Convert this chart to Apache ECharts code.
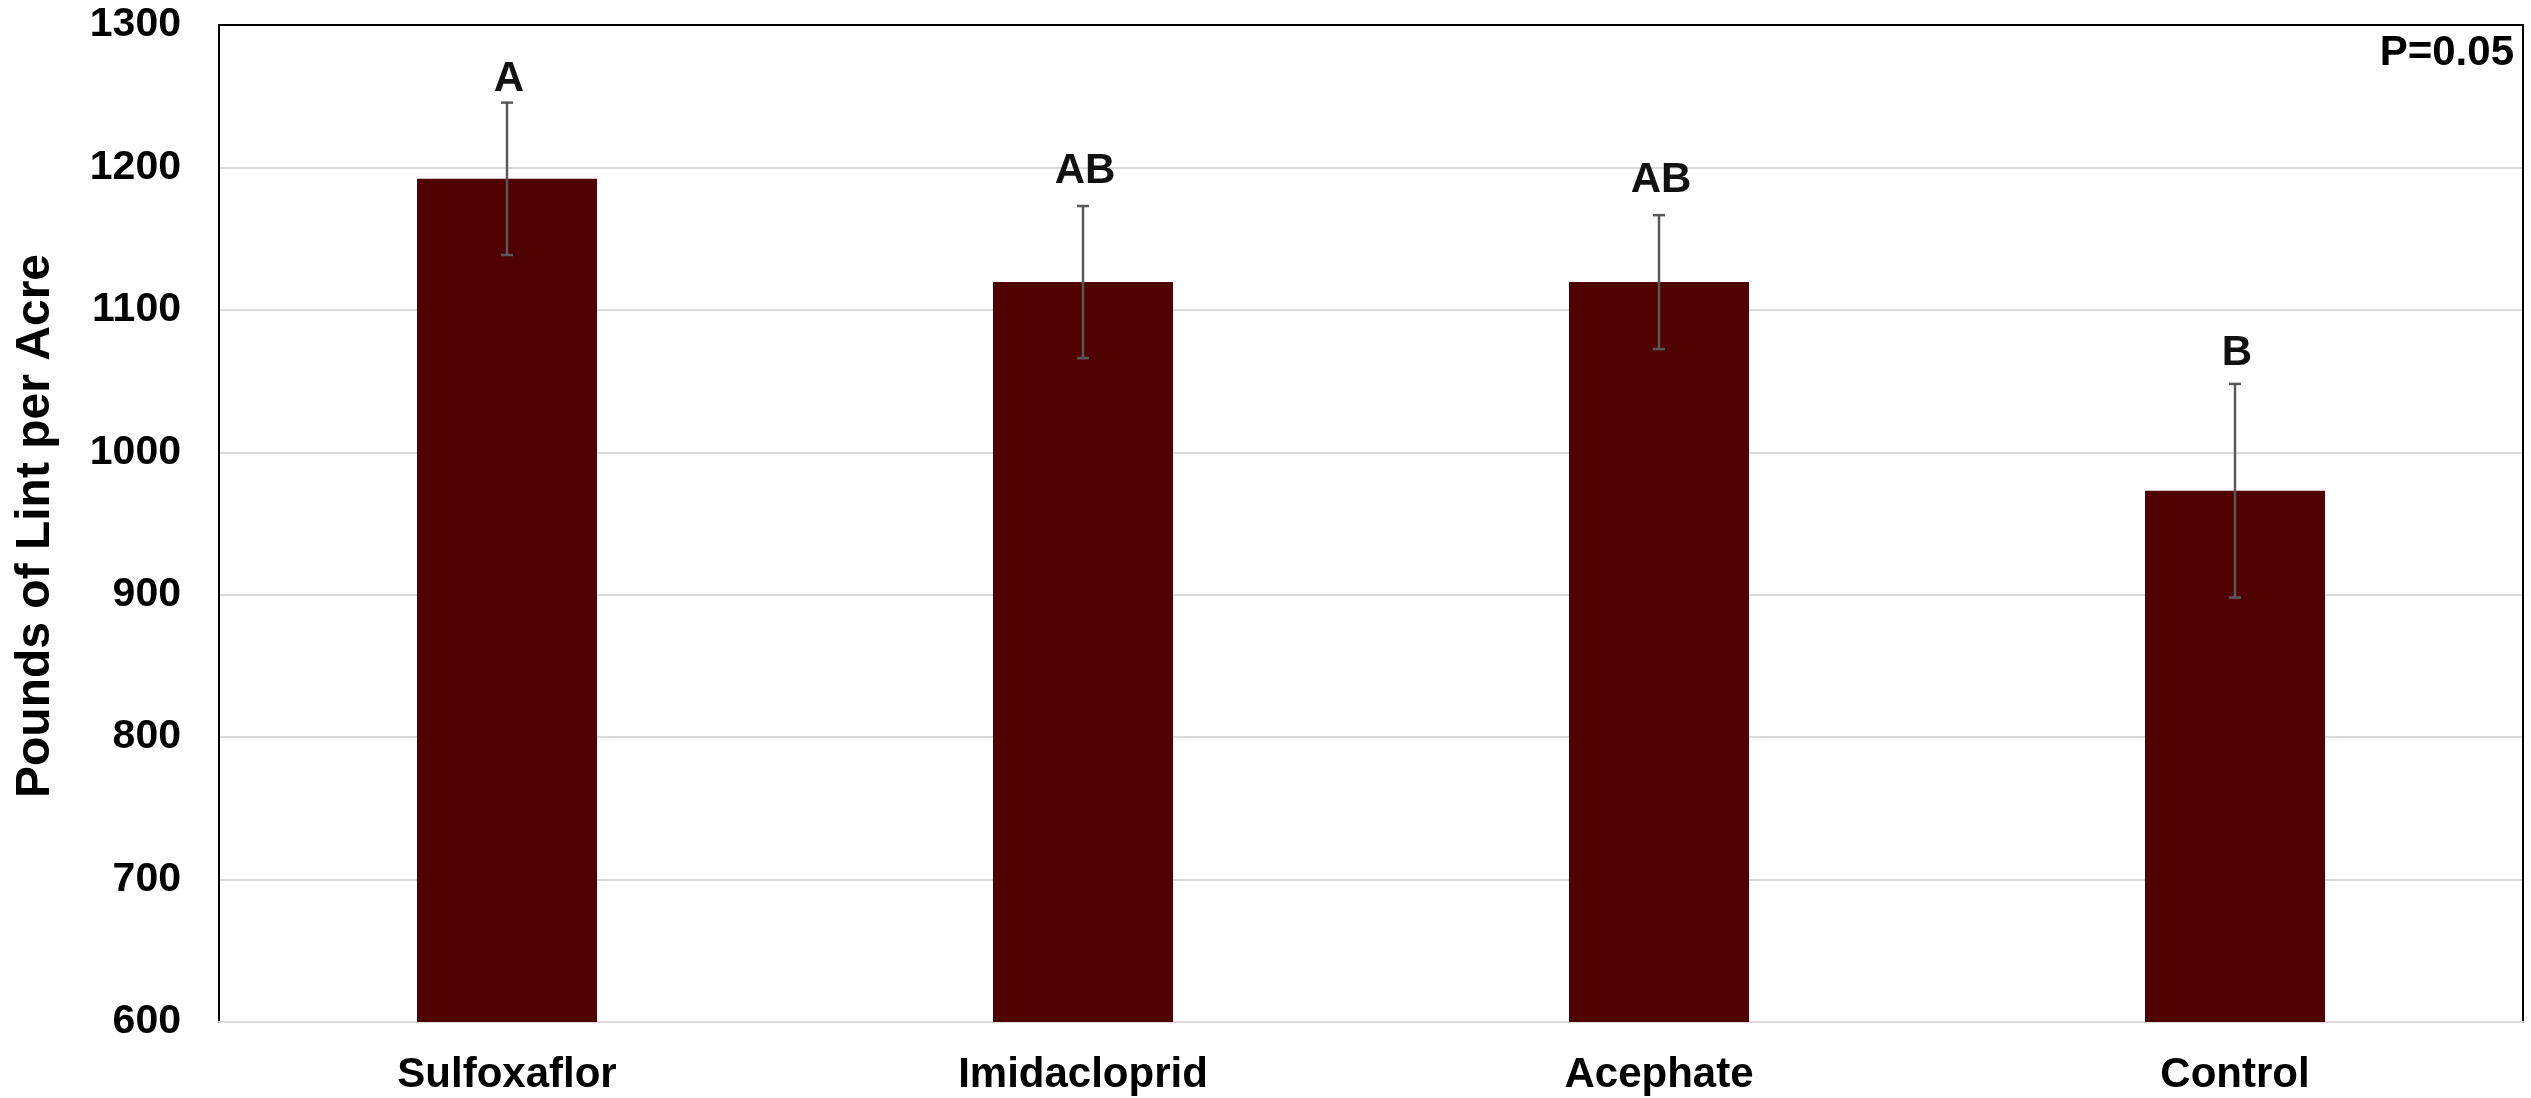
<!DOCTYPE html>
<html>
<head>
<meta charset="utf-8">
<script src="https://cdn.jsdelivr.net/npm/echarts@6/dist/echarts.min.js"></script>
<style>
html,body{margin:0;padding:0;background:#fff;}
#chart{width:2531px;height:1098px;}
</style>
</head>
<body>
<div id="chart"></div>
<script>
// ---- data ----
const categories = ['Sulfoxaflor', 'Imidacloprid', 'Acephate', 'Control'];
const lintYield = [1192, 1119.5, 1119.5, 973];
const stdError = [53.5, 53.4, 47, 75];
const letters = ['A', 'AB', 'AB', 'B'];
const letterAnchor = [1253, 1188, 1182, 1060];
const yTicks = [600, 700, 800, 900, 1000, 1100, 1200, 1300];
const yTitle = 'Pounds of Lint per Acre';
const pText = 'P=0.05';

const FONT = '"Liberation Sans", Arial, sans-serif';
const chart = echarts.init(document.getElementById('chart'), null, {renderer: 'canvas'});

const errData = categories.map((c, i) => [i, lintYield[i] - stdError[i], lintYield[i] + stdError[i], letterAnchor[i]]);

const option = {
  animation: false,
  backgroundColor: '#fff',
  grid: {left: 219, right: 8, top: 25, bottom: 76, containLabel: false},
  xAxis: [{
    type: 'category',
    data: categories,
    axisLine: {show: true, lineStyle: {color: '#d9d9d9', width: 2}},
    axisTick: {show: false},
    axisLabel: {color: '#000', fontFamily: FONT, fontWeight: 'bold', fontSize: 42, margin: 32},
    splitLine: {show: false}
  }, {
    type: 'category',
    data: categories,
    position: 'top',
    axisLine: {show: true, lineStyle: {color: '#000', width: 2}},
    axisTick: {show: false},
    axisLabel: {show: false}
  }],
  yAxis: [{
    type: 'value',
    min: yTicks[0],
    max: yTicks[yTicks.length - 1],
    interval: 100,
    axisLine: {show: true, lineStyle: {color: '#000', width: 2}},
    axisTick: {show: false},
    axisLabel: {color: '#000', fontFamily: FONT, fontWeight: 'bold', fontSize: 41, margin: 38,
                formatter: function (v) { return String(v); }},
    splitLine: {show: true, lineStyle: {color: '#d9d9d9', width: 2}}
  }, {
    type: 'value',
    position: 'right',
    min: yTicks[0],
    max: yTicks[yTicks.length - 1],
    interval: 100,
    axisLine: {show: true, lineStyle: {color: '#000', width: 2}},
    axisTick: {show: false},
    axisLabel: {show: false},
    splitLine: {show: false}
  }],
  series: [{
    type: 'bar',
    data: lintYield,
    barWidth: 180,
    itemStyle: {color: '#500000'},
    z: 2
  }, {
    type: 'custom',
    data: errData,
    z: 5,
    renderItem: function (params, api) {
      const i = api.value(0);
      const lo = api.coord([i, api.value(1)]);
      const hi = api.coord([i, api.value(2)]);
      const lab = api.coord([i, api.value(3)]);
      const hw = 6;
      const st = {stroke: '#595959', lineWidth: 2.5};
      return {
        type: 'group',
        children: [
          {type: 'line', shape: {x1: hi[0], y1: hi[1], x2: lo[0], y2: lo[1]}, style: st},
          {type: 'line', shape: {x1: hi[0] - hw, y1: hi[1], x2: hi[0] + hw, y2: hi[1]}, style: st},
          {type: 'line', shape: {x1: lo[0] - hw, y1: lo[1], x2: lo[0] + hw, y2: lo[1]}, style: st},
          {type: 'text', x: lab[0] + 2, y: lab[1] + 8,
           style: {text: letters[params.dataIndex], fill: '#111', font: 'bold 42px ' + FONT,
                   textAlign: 'center', textVerticalAlign: 'bottom'}}
        ]
      };
    }
  }],
  graphic: [{
    type: 'text',
    x: 36, y: 526,
    rotation: Math.PI / 2,
    style: {text: yTitle, fill: '#000', font: 'bold 48px ' + FONT, textAlign: 'center', textVerticalAlign: 'middle'}
  }, {
    type: 'text',
    x: 2514, y: 53,
    style: {text: pText, fill: '#000', font: 'bold 42px ' + FONT, textAlign: 'right', textVerticalAlign: 'middle'}
  }]
};
chart.setOption(option);
</script>
</body>
</html>
